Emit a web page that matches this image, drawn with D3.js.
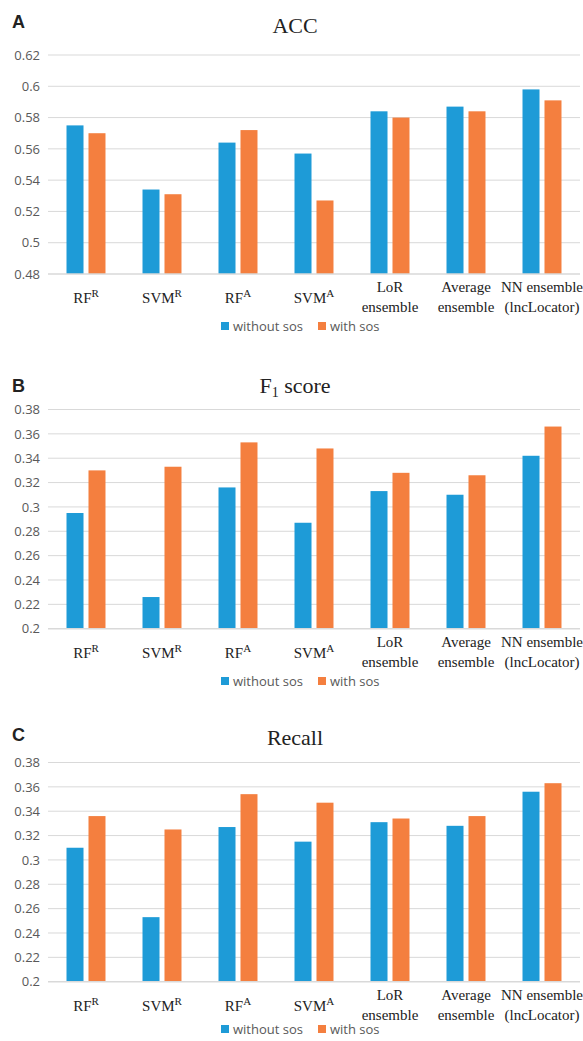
<!DOCTYPE html>
<html>
<head>
<meta charset="utf-8">
<script src="https://cdn.jsdelivr.net/npm/d3@7"></script>
<style>
  body { margin: 0; background: #fff; }
  svg { display: block; }
</style>
</head>
<body>
<div class="chart"></div>
<script>
// categories, "^" = superscript, "\n" = new line
const categories = ["RF^R", "SVM^R", "RF^A", "SVM^A", "LoR\nensemble", "Average\nensemble", "NN ensemble\n(lncLocator)"];
const seriesNames = ["without sos", "with sos"];
const seriesColors = ["#1e9bd7", "#f47f3f"];

const accWithout = [0.575, 0.534, 0.564, 0.557, 0.584, 0.587, 0.598];
const accWith    = [0.570, 0.531, 0.572, 0.527, 0.580, 0.584, 0.591];
const f1Without  = [0.295, 0.226, 0.316, 0.287, 0.313, 0.310, 0.342];
const f1With     = [0.330, 0.333, 0.353, 0.348, 0.328, 0.326, 0.366];
const recWithout = [0.310, 0.253, 0.327, 0.315, 0.331, 0.328, 0.356];
const recWith    = [0.336, 0.325, 0.354, 0.347, 0.334, 0.336, 0.363];

const accTicks = [0.48, 0.5, 0.52, 0.54, 0.56, 0.58, 0.6, 0.62];
const scoreTicks = [0.2, 0.22, 0.24, 0.26, 0.28, 0.3, 0.32, 0.34, 0.36, 0.38];

const width = 583, height = 1041;
const left = 48, right = 580;

const svg = d3.select('.chart').append('svg')
    .attr('width', width)
    .attr('height', height);

// panel settings: letter, title, data, ticks, top/bottom of plot
const panels = [
    { letter: 'A', title: 'ACC', values: [accWithout, accWith], ticks: accTicks, top: 55, bottom: 274, letterY: 28, titleY: 33, legendY: 322 },
    { letter: 'B', title: 'F1', values: [f1Without, f1With], ticks: scoreTicks, top: 409.5, bottom: 628.7, letterY: 392, titleY: 393, legendY: 677 },
    { letter: 'C', title: 'Recall', values: [recWithout, recWith], ticks: scoreTicks, top: 762.5, bottom: 981.7, letterY: 741, titleY: 745, legendY: 1025 }
];

const x = d3.scaleBand()
    .domain(categories)
    .range([left, right])
    .paddingInner(0.487)
    .paddingOuter(0.2435);

const xInner = d3.scaleBand()
    .domain([0, 1])
    .range([0, x.bandwidth()])
    .paddingInner(0.227);

panels.forEach(p => {
    const g = svg.append('g');
    const y = d3.scaleLinear()
        .domain([p.ticks[0], p.ticks[p.ticks.length - 1]])
        .range([p.bottom, p.top]);

    // panel letter
    g.append('text')
        .attr('x', 12)
        .attr('y', p.letterY)
        .attr('font-family', 'Liberation Sans, Arial, sans-serif')
        .attr('font-weight', 'bold')
        .attr('font-size', 18)
        .attr('fill', '#222')
        .text(p.letter);

    // title
    const title = g.append('text')
        .attr('x', 295)
        .attr('y', p.titleY)
        .attr('text-anchor', 'middle')
        .attr('font-family', 'Liberation Serif, Times New Roman, serif')
        .attr('font-size', 22)
        .attr('fill', '#222');
    if (p.title === 'F1') {
        title.append('tspan').text('F');
        title.append('tspan').attr('font-size', 14).attr('dy', 4).text('1');
        title.append('tspan').attr('dy', -4).text(' score');
    } else {
        title.text(p.title);
    }

    // gridlines
    g.append('g')
        .selectAll('line')
        .data(p.ticks.slice(1))
        .enter()
        .append('line')
        .attr('x1', left)
        .attr('x2', right)
        .attr('y1', d => y(d))
        .attr('y2', d => y(d))
        .attr('stroke', '#d9d9d9')
        .attr('stroke-width', 1);

    // y axis labels
    const yAxis = d3.axisLeft(y)
        .tickValues(p.ticks)
        .tickSize(0)
        .tickPadding(8)
        .tickFormat(d3.format('~g'));
    const ya = g.append('g')
        .attr('transform', `translate(${left},0)`)
        .call(yAxis);
    ya.select('.domain').remove();
    ya.selectAll('text')
        .attr('font-family', 'Open Sans, sans-serif')
        .attr('font-size', 13)
        .attr('fill', '#595959');

    // bars
    p.values.forEach((vals, si) => {
        g.append('g')
            .selectAll('rect')
            .data(vals)
            .enter()
            .append('rect')
            .attr('x', (d, i) => x(categories[i]) + xInner(si))
            .attr('width', xInner.bandwidth())
            .attr('y', d => y(d))
            .attr('height', d => y(p.ticks[0]) - y(d))
            .attr('fill', seriesColors[si]);
    });

    // baseline
    g.append('line')
        .attr('x1', left)
        .attr('x2', right)
        .attr('y1', p.bottom)
        .attr('y2', p.bottom)
        .attr('stroke', '#d9d9d9')
        .attr('stroke-width', 1.5);

    // category labels
    const labels = g.append('g')
        .selectAll('text')
        .data(categories)
        .enter()
        .append('text')
        .attr('text-anchor', 'middle')
        .attr('font-family', 'Liberation Serif, Times New Roman, serif')
        .attr('font-size', 15)
        .attr('fill', '#222');

    labels.each(function (d) {
        const t = d3.select(this);
        const cx = x(d) + x.bandwidth() / 2;
        const lines = d.split('\n');
        lines.forEach((line, li) => {
            const by = lines.length === 1 ? p.bottom + 29 : p.bottom + 18 + li * 20;
            const parts = line.split('^');
            const tl = t.append('tspan').attr('x', cx).attr('y', by);
            if (parts.length === 1) {
                tl.text(line);
            } else {
                tl.text(parts[0]);
                tl.append('tspan').attr('font-size', 11).attr('dy', -6).text(parts[1]);
            }
        });
    });

    // legend
    const legend = g.append('g')
        .attr('transform', `translate(0, ${p.legendY})`);
    const legendX = [221, 318];
    seriesNames.forEach((name, si) => {
        legend.append('rect')
            .attr('x', legendX[si])
            .attr('y', 0)
            .attr('width', 8)
            .attr('height', 8)
            .attr('fill', seriesColors[si]);
        legend.append('text')
            .attr('x', legendX[si] + 12)
            .attr('y', 9)
            .attr('font-family', 'Open Sans, sans-serif')
            .attr('font-size', 13)
            .attr('fill', '#595959')
            .text(name);
    });
});
</script>
</body>
</html>
